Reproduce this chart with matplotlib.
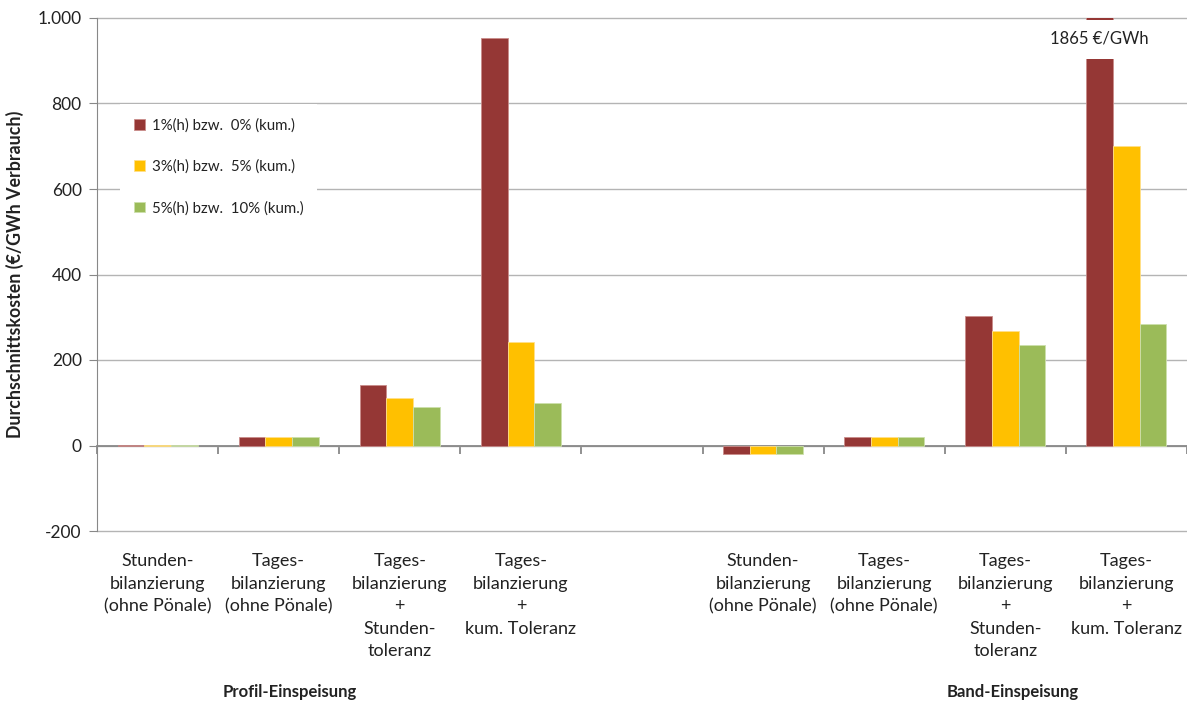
import matplotlib
matplotlib.use("Agg")
import matplotlib.pyplot as plt
import matplotlib.transforms as mtransforms
from matplotlib.patches import Rectangle
from matplotlib.ticker import FuncFormatter, FixedLocator
import numpy as np

plt.rcParams['font.family'] = ['Lato', 'DejaVu Sans']

# Category slots (an empty slot separates the two groups)
categories = [
    "Stunden-\nbilanzierung\n(ohne Pönale)",
    "Tages-\nbilanzierung\n(ohne Pönale)",
    "Tages-\nbilanzierung\n+\nStunden-\ntoleranz",
    "Tages-\nbilanzierung\n+\nkum. Toleranz",
    "",
    "Stunden-\nbilanzierung\n(ohne Pönale)",
    "Tages-\nbilanzierung\n(ohne Pönale)",
    "Tages-\nbilanzierung\n+\nStunden-\ntoleranz",
    "Tages-\nbilanzierung\n+\nkum. Toleranz",
]
groups = ["Profil-Einspeisung", "Band-Einspeisung"]
group_label_x = [1.59, 7.56]

series_names = [
    "1%(h) bzw.  0% (kum.)",
    "3%(h) bzw.  5% (kum.)",
    "5%(h) bzw.  10% (kum.)",
]
tol_low = [1, 20, 142, 953, np.nan, -19, 20, 304, 1865]
tol_mid = [1, 20, 112, 243, np.nan, -19, 20, 268, 701]
tol_high = [1, 20, 89, 100, np.nan, -19, 20, 236, 285]
series_values = [tol_low, tol_mid, tol_high]
colors = ["#953735", "#FFC000", "#9BBB59"]
edge_colors = ["#c98c8a", "#ffe08a", "#cde0ac"]

y_min, y_max = -200, 1000

fig = plt.figure(figsize=(11.87, 7.04), dpi=100)
ax = fig.add_axes([97 / 1187, 1 - 531 / 704, 1 - 97 / 1187, (531 - 18) / 704])

n = len(categories)
x = np.arange(n) + 0.5
bw = 0.22
for k, (vals, c, ec) in enumerate(zip(series_values, colors, edge_colors)):
    v = np.array(vals, dtype=float)
    mask = ~np.isnan(v)
    ax.bar(x[mask] + (k - 1) * bw, v[mask], width=bw, color=c,
           edgecolor=ec, linewidth=0.6, zorder=3, label=series_names[k])

ax.set_xlim(0, n)
ax.set_ylim(y_min, y_max)

# Axis break for the value exceeding the scale
for i, v in enumerate(tol_low):
    if not np.isnan(v) and v > y_max:
        bx = x[i] - bw - bw / 2
        ax.add_patch(Rectangle((bx - 0.01, 905), bw + 0.02, 90,
                               facecolor="white", edgecolor="none", zorder=4))
        ax.text(x[i] - bw, 953, f"{v:.0f} €/GWh", ha="center", va="center",
                fontsize=12, color="#222222", zorder=5)

# Gridlines and axes styling
grid_color = "#b4b4b4"
ax.yaxis.set_major_locator(FixedLocator(np.arange(y_min, y_max + 1, 200)))
ax.yaxis.grid(True, color=grid_color, linewidth=1.0, zorder=0)
for gl in ax.get_ygridlines():
    gl.set_clip_on(False)
ax.set_axisbelow(True)
ax.yaxis.set_major_formatter(FuncFormatter(lambda v, p: f"{v:,.0f}".replace(",", ".")))
ax.tick_params(axis="y", direction="out", length=6, color="#888888",
               labelsize=12.5, labelcolor="#222222", pad=5)

for s in ["top", "right"]:
    ax.spines[s].set_visible(False)
ax.spines["left"].set_color("#888888")
ax.spines["bottom"].set_position(("data", 0))
ax.spines["bottom"].set_color("#888888")
ax.spines["bottom"].set_linewidth(1.3)
ax.set_xticks(np.arange(n + 1))
ax.set_xticklabels([])
ax.tick_params(axis="x", direction="out", length=6, color="#888888", width=1.3)

ax.set_ylabel("Durchschnittskosten (€/GWh Verbrauch)", fontsize=12.8,
              fontweight="bold", color="#222222", labelpad=10)

# Category labels below the plot area
trans = mtransforms.blended_transform_factory(ax.transData, fig.transFigure)
for xi, lab in zip(x, categories):
    if lab:
        ax.text(xi, 1 - 553 / 704, lab, transform=trans, ha="center", va="top",
                fontsize=13, color="#222222", linespacing=1.5)
for gx, g in zip(group_label_x, groups):
    ax.text(gx, 1 - 692 / 704, g, transform=trans, ha="center", va="center",
            fontsize=12, fontweight="bold", color="#222222")

leg = ax.legend(loc="upper left", bbox_to_anchor=(120 / 1187, 1 - 104 / 704),
                bbox_transform=fig.transFigure, frameon=True, fancybox=False,
                edgecolor="none", facecolor="white", framealpha=1,
                fontsize=10.8, handlelength=0.7, handleheight=0.7,
                labelspacing=1.8, handletextpad=0.45, borderpad=0.95,
                borderaxespad=0)
for t in leg.get_texts():
    t.set_color("#222222")
leg.set_zorder(6)

fig.savefig("out.png", dpi=100)
